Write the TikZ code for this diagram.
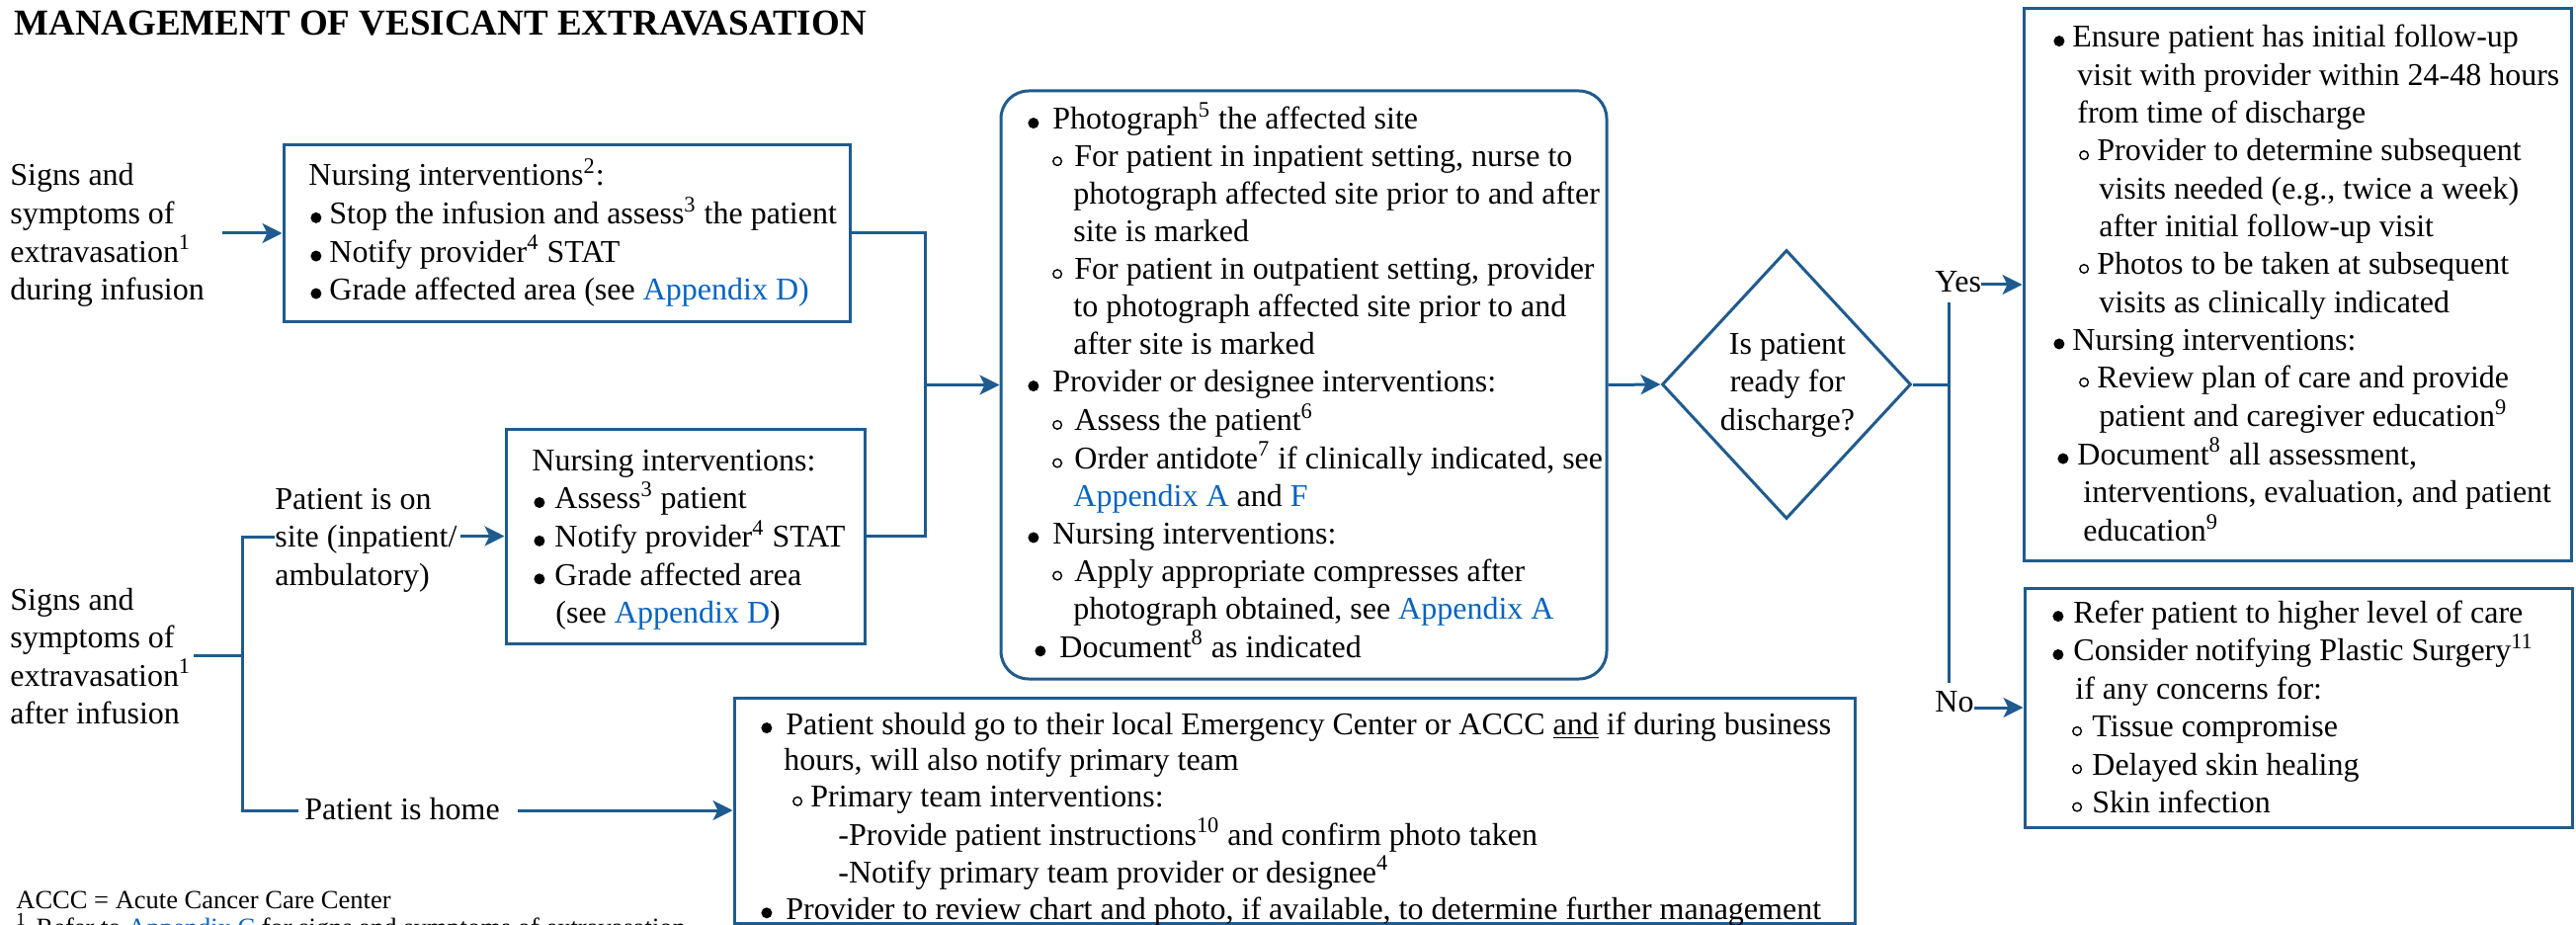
\documentclass[tikz,border=0pt]{standalone}
\usepackage{fontspec}
\setmainfont{Liberation Serif}
\usetikzlibrary{arrows.meta,shapes.geometric}
\definecolor{boxc}{RGB}{31,91,142}
\definecolor{linkc}{RGB}{5,99,193}
\newdimen\pxunit \pxunit=0.5pt
\newcommand\mylink[1]{\textcolor{linkc}{#1}}
\newcommand\mysup[1]{\textsuperscript{#1}}
\newcommand\mydot{\tikz[baseline=0pt]\fill[black] (0pt,0pt) ++(2.75pt,3.2pt) circle[radius=2.75pt];}
\newcommand\myring{\tikz[baseline=0pt]\draw[black,line width=0.7pt] (0pt,0pt) ++(2.5pt,2.9pt) circle[radius=2.15pt];}
\newcommand\mybul[2]{\hspace*{#1\pxunit}\makebox[#2\pxunit][l]{\mydot}}
\newcommand\mycirc[2]{\hspace*{#1\pxunit}\makebox[#2\pxunit][l]{\myring}}
\newcommand\myind[1]{\hspace*{#1\pxunit}}
\newcommand\mylines[1]{\begin{tabular}[t]{@{}l@{}}#1\end{tabular}}
\tikzset{
  txt/.style={inner sep=0pt, anchor=base west},
  box/.style={draw=boxc, line width=1.5pt, inner sep=0pt},
  ln/.style={draw=boxc, line width=1.5pt},
  arr/.style={draw=boxc, line width=1.5pt, -{Stealth[length=10pt,width=10pt,inset=2.5pt]}, fill=none},
}
\begin{document}
\begin{tikzpicture}[x=0.5pt, y=-0.5pt]
\useasboundingbox (0,0) rectangle (2607,936);

% title
\node[txt, font=\fontsize{18.5}{22}\selectfont\bfseries] (title) at (14,36) {MANAGEMENT OF VESICANT EXTRAVASATION};

% boxes
\node[box, minimum width=286.5pt, minimum height=89pt] (B1) at (573.5,236) {};
\node[box, minimum width=181.5pt, minimum height=108.5pt] (B2) at (693.5,542.5) {};
\node[box, rounded corners=14pt, minimum width=306.5pt, minimum height=297.5pt] (M) at (1319.5,389.5) {};
\node[box, diamond, minimum width=126pt, minimum height=136pt] (D) at (1808,389) {};
\node[box, minimum width=277pt, minimum height=279pt] (Y) at (2325,288) {};
\node[box, minimum width=277pt, minimum height=121pt] (N) at (2326,716) {};
\node[box, minimum width=567pt, minimum height=114pt] (H) at (1310,820) {};

% left texts
\node[txt, font=\fontsize{16}{19.25}\selectfont] (L1) at (10,188) {\mylines{Signs and\\symptoms of\\extravasation\mysup{1}\\during infusion}};
\node[txt, font=\fontsize{16}{19.25}\selectfont] (L2) at (10,617) {\mylines{Signs and\\symptoms of\\extravasation\mysup{1}\\after infusion}};
\node[txt, font=\fontsize{16}{19.25}\selectfont] (P1) at (278,515) {\mylines{Patient is on\\site (inpatient/\\ambulatory)}};
\node[txt, font=\fontsize{16}{19.25}\selectfont] (P2) at (308,829) {Patient is home};

% box texts
\node[txt, font=\fontsize{16}{19}\selectfont] (T1) at (312,188) {\mylines{%
Nursing interventions\mysup{2}:\\
\mybul{2}{19}Stop the infusion and assess\mysup{3} the patient\\
\mybul{2}{19}Notify provider\mysup{4} STAT\\
\mybul{2}{19}Grade affected area (see \mylink{Appendix D)}}};

\node[txt, font=\fontsize{16}{19.25}\selectfont] (T2) at (538,476) {\mylines{%
Nursing interventions:\\
\mybul{2}{21}Assess\mysup{3} patient\\
\mybul{2}{21}Notify provider\mysup{4} STAT\\
\mybul{2}{21}Grade affected area\\
\myind{24}(see \mylink{Appendix D})}};

\node[txt, font=\fontsize{16}{19}\selectfont] (TM) at (1040,131) {\mylines{%
\mybul{0}{25}Photograph\mysup{5} the affected site\\
\mycirc{24}{23}For patient in inpatient setting, nurse to\\
\myind{46}photograph affected site prior to and after\\
\myind{46}site is marked\\
\mycirc{24}{23}For patient in outpatient setting, provider\\
\myind{46}to photograph affected site prior to and\\
\myind{46}after site is marked\\
\mybul{0}{25}Provider or designee interventions:\\
\mycirc{24}{23}Assess the patient\mysup{6}\\
\mycirc{24}{23}Order antidote\mysup{7} if clinically indicated, see\\
\myind{46}\mylink{Appendix A} and \mylink{F}\\
\mybul{0}{25}Nursing interventions:\\
\mycirc{24}{23}Apply appropriate compresses after\\
\myind{46}photograph obtained, see \mylink{Appendix A}\\
\mybul{7}{25}Document\mysup{8} as indicated}};

\node[inner sep=0pt, font=\fontsize{16}{19.25}\selectfont] (TD) at (1809,389) {\begin{tabular}{@{}c@{}}Is patient\\ready for\\discharge?\end{tabular}};

\node[txt, font=\fontsize{16}{19.15}\selectfont] (TY) at (2078,48) {\mylines{%
\mybul{0}{19}Ensure patient has initial follow-up\\
\myind{24}visit with provider within 24-48 hours\\
\myind{24}from time of discharge\\
\mycirc{25}{19}Provider to determine subsequent\\
\myind{46}visits needed (e.g., twice a week)\\
\myind{46}after initial follow-up visit\\
\mycirc{25}{19}Photos to be taken at subsequent\\
\myind{46}visits as clinically indicated\\
\mybul{0}{19}Nursing interventions:\\
\mycirc{25}{19}Review plan of care and provide\\
\myind{46}patient and caregiver education\mysup{9}\\
\mybul{4}{20}Document\mysup{8} all assessment,\\
\myind{30}interventions, evaluation, and patient\\
\myind{30}education\mysup{9}}};

\node[txt, font=\fontsize{16}{19.2}\selectfont] (TN) at (2077,630) {\mylines{%
\mybul{0}{21}Refer patient to higher level of care\\
\mybul{0}{21}Consider notifying Plastic Surgery\mysup{11}\\
\myind{23}if any concerns for:\\
\mycirc{19}{21}Tissue compromise\\
\mycirc{19}{21}Delayed skin healing\\
\mycirc{19}{21}Skin infection}};

\node[txt, font=\fontsize{16}{18.4}\selectfont] (TH) at (770,743) {\mylines{%
\mybul{0}{25}Patient should go to their local Emergency Center or ACCC \underline{and} if during business\\
\myind{23}hours, will also notify primary team\\
\mycirc{31}{19}Primary team interventions:\\
\myind{78}-Provide patient instructions\mysup{10} and confirm photo taken\\
\myind{78}-Notify primary team provider or designee\mysup{4}\\
\mybul{0}{25}Provider to review chart and photo, if available, to determine further management}};

% labels
\node[txt, font=\fontsize{16}{19}\selectfont] (Ylab) at (1958,296) {Yes};
\node[txt, font=\fontsize{16}{19}\selectfont] (Nlab) at (1958,720) {No};

% footnotes
\node[txt, font=\fontsize{13.25}{14}\selectfont] (F1) at (16,919) {ACCC = Acute Cancer Care Center};
\node[txt, font=\fontsize{13.25}{14}\selectfont] (F2) at (16,947) {\mysup{1}\hspace{5pt}Refer to \mylink{Appendix C} for signs and symptoms of extravasation};

% coordinates
\coordinate (J) at (936,389.5);
\coordinate (K) at (245,663);
\coordinate (ktop) at (245,543);
\coordinate (kbot) at (245,820);
\coordinate (yv1) at (1972,306);
\coordinate (yv2) at (1972,691);

% connectors
\draw[arr] ([xshift=9pt]L1.east |- B1.west) -- (B1.west);
\draw[ln] (B1.east) -| (J) |- (B2.east);
\draw[arr] (J) -- (M.west);
\draw[ln] ([xshift=1pt]L2.east |- K) -- (K);
\draw[ln] (ktop -| P1.west) -- (ktop) -- (kbot) -- ([xshift=-3pt]P2.west |- kbot);
\draw[arr] ([xshift=1.5pt]P1.east |- B2.west) -- (B2.west);
\draw[arr] ([xshift=9pt]P2.east |- kbot) -- (H.west);
\draw[arr] (M.east) -- (D.west);
\draw[ln] (D.east) -- (D.east -| yv1);
\draw[ln] (yv1) -- (yv2);
\draw[arr] (Ylab.east |- Y.west) -- (Y.west);
\draw[arr] (Nlab.east |- N.west) -- (N.west);
\end{tikzpicture}
\end{document}
